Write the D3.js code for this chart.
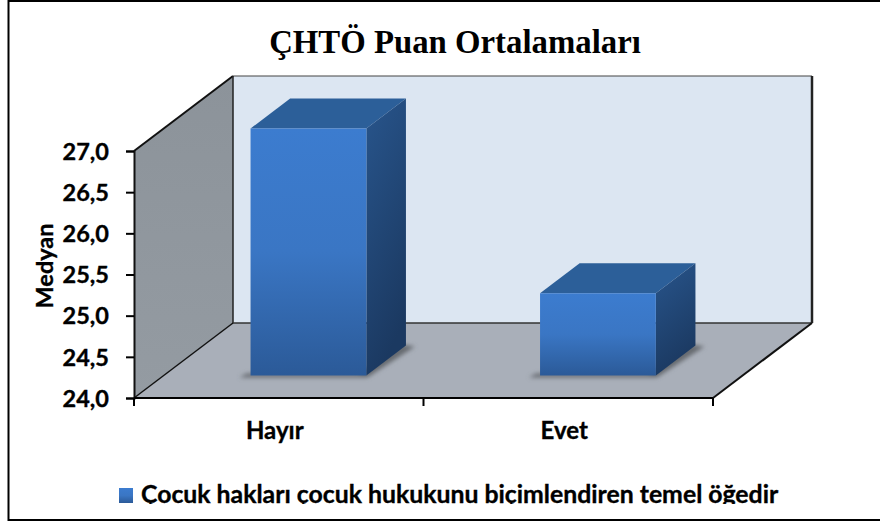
<!DOCTYPE html>
<html>
<head>
<meta charset="utf-8">
<script src="https://cdn.jsdelivr.net/npm/d3@7/dist/d3.min.js"></script>
<style>
  html, body { margin: 0; padding: 0; background: #fff; }
  svg { display: block; }
  .lbl { font-family: Lato, "Open Sans", sans-serif; font-weight: 700; fill: #000; stroke: #000; stroke-width: 0.35px; }
</style>
</head>
<body>
<svg class="graph" width="880" height="521"></svg>
<script>
var categories = ["Hayır", "Evet"];
var medians = [27.0, 25.0];
var yTicks = [24, 24.5, 25, 25.5, 26, 26.5, 27];
var chartTitle = "ÇHTÖ Puan Ortalamaları";
var yTitle = "Medyan";
var legendLabel = "Çocuk hakları çocuk hukukunu biçimlendiren temel öğedir";

var svg = d3.select(".graph");
var defs = svg.append("defs");

// the 3d box: front plane plus a shift for the depth
var depthX = 99, depthY = 75;
var barDepth = [0.3, 0.7];

var x = d3.scaleBand().domain(categories).range([134, 713]).paddingInner(0.6).paddingOuter(0.3);
var y = d3.scaleLinear().domain([24, 27]).range([398, 151]);
var fmt = d3.formatLocale({decimal: ",", thousands: ".", grouping: [3], currency: ["", ""]}).format(".1f");

function pt(px, py, d) {
  return [px + d * depthX, py - d * depthY];
}

function gradient(id, stops, x2, y2) {
  var g = defs.append("linearGradient").attr("id", id)
    .attr("x1", 0).attr("y1", 0).attr("x2", x2).attr("y2", y2);
  stops.forEach(function (s, i) {
    g.append("stop").attr("offset", i / (stops.length - 1)).attr("stop-color", s);
  });
}
gradient("front", ["#3c7ccf", "#3a76c4", "#2b5a98"], 0, 1);
gradient("side", ["#28558c", "#1b3961"], 0.3, 1);
gradient("wall", ["#8c939a", "#949ba2"], 0, 1);

defs.append("filter").attr("id", "blur").attr("x", "-20%").attr("y", "-50%").attr("width", "140%").attr("height", "200%")
  .append("feGaussianBlur").attr("stdDeviation", 2.2);
defs.append("clipPath").attr("id", "legendClip")
  .append("rect").attr("x", 100).attr("y", 470).attr("width", 720).attr("height", 34);

// frame
svg.append("path").attr("d", "M881,1H8.5V520H881").attr("fill", "none").attr("stroke", "#000").attr("stroke-width", 2);

svg.append("text").attr("x", 455).attr("y", 53).attr("text-anchor", "middle")
  .style("font-family", '"Liberation Serif", serif').style("font-weight", 700).style("font-size", "32.8px")
  .text(chartTitle);

// walls and floor
var x0 = 134, x1 = 713, yb = y(24), yt = y(27);
var walls = svg.append("g").attr("stroke-linejoin", "miter");
function poly(parent, pts) {
  return parent.append("polygon").attr("points", pts.map(function (p) { return p.join(","); }).join(" "));
}
poly(walls, [pt(x0, yb, 1), pt(x1, yb, 1), pt(x1, yt, 1), pt(x0, yt, 1)]).attr("fill", "#dce6f2");
poly(walls, [pt(x0, yb, 0), pt(x0, yt, 0), pt(x0, yt, 1), pt(x0, yb, 1)]).attr("fill", "url(#wall)");
poly(walls, [pt(x0, yb, 0), pt(x1, yb, 0), pt(x1, yb, 1), pt(x0, yb, 1)]).attr("fill", "#a9afb9");

function edge(a, b, w, col) {
  svg.append("line").attr("x1", a[0]).attr("y1", a[1]).attr("x2", b[0]).attr("y2", b[1])
    .attr("stroke", col || "#111").attr("stroke-width", w);
}
edge(pt(x0, yt, 0), pt(x0, yt, 1), 2);
edge(pt(x0, yt, 1), pt(x1, yt, 1), 1.2, "#444");
edge(pt(x0, yt, 1), pt(x0, yb, 1), 1.5, "#222");
edge(pt(x1, yt, 1), pt(x1, yb, 1), 2.5, "#222");
edge(pt(x0, yb, 1), pt(x1, yb, 1), 1.3, "#333");
edge(pt(x0, yb, 0), pt(x0, yb, 1), 1.5);
edge(pt(x1, yb, 0), pt(x1, yb, 1), 2);

// bars
var bars = svg.append("g").selectAll("g").data(categories).enter().append("g");

bars.each(function (c, i) {
  var g = d3.select(this);
  var l = x(c), r = x(c) + x.bandwidth();
  var d0 = barDepth[0], d1 = barDepth[1];
  var top = y(medians[i]), base = y(24);

  var fl = pt(l, base, d0), fr = pt(r, base, d0), br = pt(r, base, d1);
  poly(g, [[fl[0] - 11, fl[1] + 2], [fr[0] + 1, fr[1] + 2], [br[0] + 9, br[1] + 1], [br[0] - 4, br[1] - 1], [fr[0] - 8, fr[1] - 2], [fl[0] - 4, fl[1] - 2]])
    .attr("fill", "#666a70").attr("filter", "url(#blur)");

  poly(g, [pt(l, top, d0), pt(r, top, d0), pt(r, top, d1), pt(l, top, d1)]).attr("fill", "#2c5f99");
  poly(g, [pt(r, top, d0), pt(r, top, d1), pt(r, base, d1), pt(r, base, d0)]).attr("fill", "url(#side)");
  poly(g, [pt(l, top, d0), pt(r, top, d0), pt(r, base, d0), pt(l, base, d0)]).attr("fill", "url(#front)");
});

// axes
var yAxis = svg.append("g").attr("transform", "translate(" + x0 + ",0)")
  .call(d3.axisLeft(y).tickValues(yTicks).tickFormat(fmt).tickSize(8).tickPadding(17));
yAxis.selectAll("text").attr("class", "lbl").style("font-size", "23.5px").attr("dy", "0.35em");
yAxis.selectAll("line").attr("stroke", "#000").attr("stroke-width", 2);
yAxis.select(".domain").attr("stroke", "#111").attr("stroke-width", 2);

var xAxis = svg.append("g").attr("transform", "translate(0," + yb + ")")
  .call(d3.axisBottom(x).tickSize(0).tickPadding(24));
xAxis.selectAll("text").attr("class", "lbl").style("font-size", "24px").attr("dx", -4);
xAxis.select(".domain").remove();
edge([x0, yb], [x1, yb], 2, "#000");

// separators between the categories
var sep = [x0, (x0 + x1) / 2, x1];
svg.append("g").selectAll("line").data(sep).enter().append("line")
  .attr("x1", function (d) { return d; }).attr("x2", function (d) { return d; })
  .attr("y1", yb).attr("y2", yb + 8)
  .attr("stroke", "#000").attr("stroke-width", 2);

svg.append("text").attr("class", "lbl").attr("transform", "translate(53,266) rotate(-90)")
  .attr("text-anchor", "middle").style("font-size", "23.5px").text(yTitle);

// legend, the bottom of the text is cut off
svg.append("rect").attr("x", 119).attr("y", 488).attr("width", 14).attr("height", 15).attr("fill", "url(#front)");
svg.append("text").attr("class", "lbl").attr("x", 141).attr("y", 503).attr("clip-path", "url(#legendClip)")
  .style("font-size", "24.8px").text(legendLabel);
</script>
</body>
</html>
